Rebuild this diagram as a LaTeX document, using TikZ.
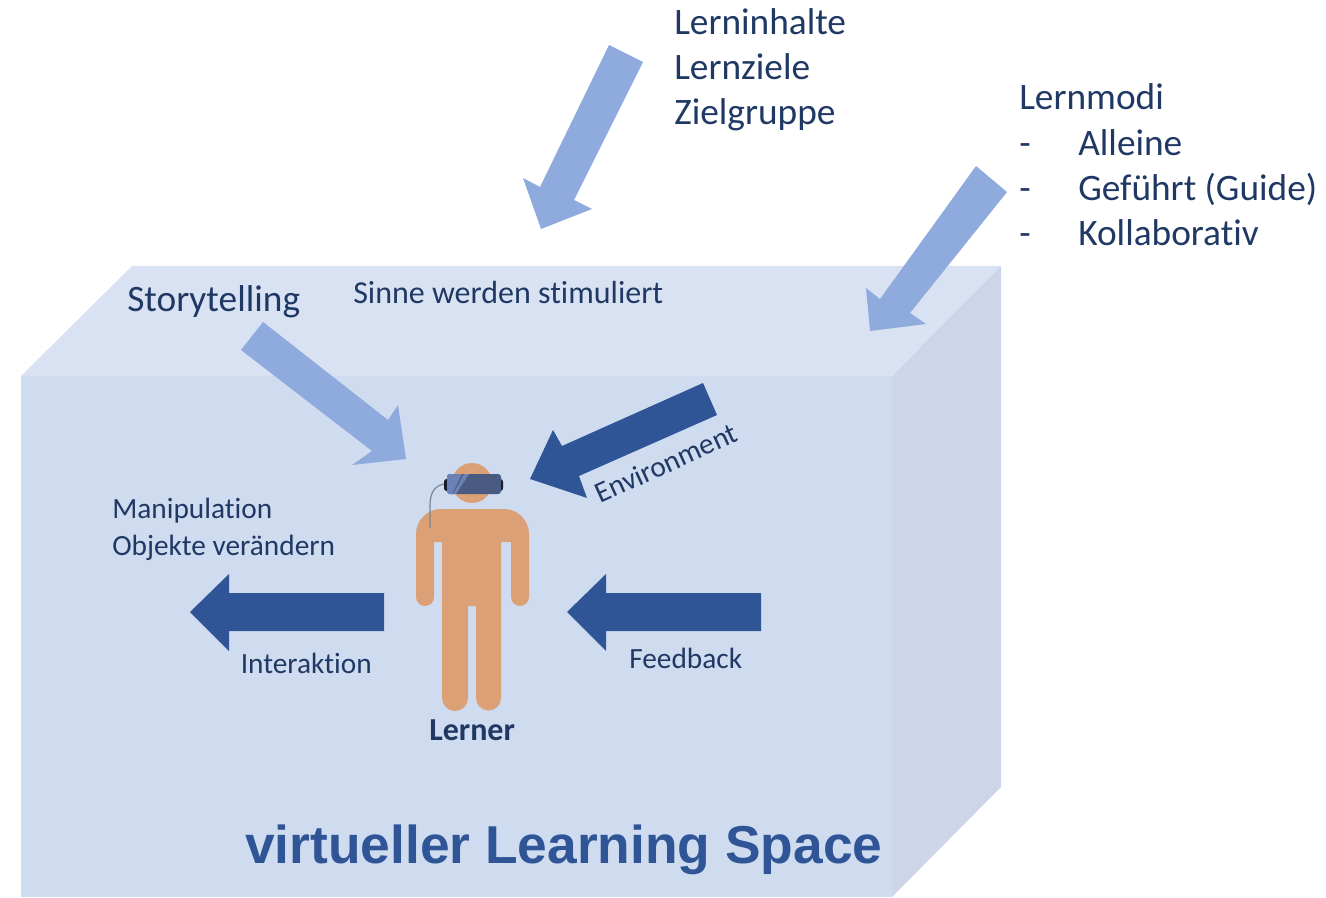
\documentclass[tikz,border=0pt]{standalone}
\usepackage{fontspec}
\setmainfont[Ligatures=NoCommon]{Carlito}
\newfontfamily\headfont{Liberation Sans}
\definecolor{frontc}{HTML}{CFDCF0}
\definecolor{topc}{HTML}{D9E2F3}
\definecolor{sidec}{HTML}{CCD6E8}
\definecolor{lightarrow}{HTML}{8FAADC}
\definecolor{darkarrow}{HTML}{2F5597}
\definecolor{inkc}{HTML}{203864}
\definecolor{skinc}{HTML}{DBA075}
\definecolor{gogglec}{HTML}{4A5B82}
\definecolor{gogglel}{HTML}{6B80B5}
\definecolor{cablec}{HTML}{7C8591}
\tikzset{
  x=0.75pt,y=-0.75pt,
  lab/.style={text=inkc,inner sep=0pt,anchor=base west},
  big/.style={lab,font=\fontsize{28}{34}\selectfont},
  mid/.style={lab,font=\fontsize{22}{27}\selectfont},
  light/.style={fill=lightarrow,draw=none},
  dark/.style={fill=darkarrow,draw=none},
}
\begin{document}
\begin{tikzpicture}
\useasboundingbox (0,0) rectangle (1326,898);
% box
\fill[topc] (21,376) -- (132,266) -- (1001,266) -- (892,376) -- cycle;
\fill[sidec] (892,376) -- (1001,266) -- (1001,787) -- (892,897) -- cycle;
\fill[frontc] (21,376) rectangle (892,897);
% light arrows
\path[light] (609,45) -- (643,62) -- (574,200) -- (592,209) -- (541,229) -- (523,178) -- (540,187) -- cycle;
\path[light] (976,166) -- (1007,192) -- (910,313) -- (926,324) -- (870,331) -- (866,288) -- (880,299) -- cycle;
\path[light] (263,322) -- (241,350) -- (372,451) -- (352,465) -- (406,459) -- (398,405) -- (388,420) -- cycle;
% dark arrows
\path[dark] (703,383) -- (717,415) -- (579,476) -- (587,498) -- (530,479) -- (553,430) -- (562,446) -- cycle;
\path[dark] (761,593) -- (761,631) -- (606,631) -- (606,651) -- (567,612) -- (606,574) -- (606,593) -- cycle;
\path[dark] (384,593) -- (384,631) -- (229,631) -- (229,651) -- (190,612) -- (229,574) -- (229,593) -- cycle;
% person
\fill[skinc] (472,483) circle[radius=20];
\fill[skinc] (416,597) -- (416,534) arc[start angle=180,end angle=270,radius=25] -- (504,509)
  arc[start angle=270,end angle=360,radius=25] -- (529,597)
  arc[start angle=0,end angle=180,radius=9] -- (511,542) -- (501,542) -- (501,698)
  arc[start angle=0,end angle=180,radius=12.5] -- (476,606) -- (468,606) -- (468,698)
  arc[start angle=0,end angle=180,radius=13] -- (442,542) -- (434,542) -- (434,597)
  arc[start angle=0,end angle=180,radius=9] -- cycle;
% goggles
\draw[cablec,line width=0.9pt] (445,484) .. controls (434,485) and (430,494) .. (430,505) -- (430,528);
\fill[black!70!gogglec,rounded corners=2pt] (444,479) rectangle (503,491);
\fill[gogglec,rounded corners=2.2pt] (447,474) rectangle (501,494);
\begin{scope}
  \clip[rounded corners=2.2pt] (447,474) rectangle (501,494);
  \fill[gogglel] (447,474) -- (462,474) -- (452,494) -- (447,494) -- cycle;
  \fill[gogglel] (464,474) -- (469,474) -- (456,494) -- (453,494) -- cycle;
\end{scope}
% labels
\node[big] (inhalte) at (674,34.5) {Lerninhalte};
\node[big] (ziele) at (674,79.5) {Lernziele};
\node[big] (gruppe) at (674,124.5) {Zielgruppe};
\node[big] (modi) at (1019,110) {Lernmodi};
\node[big] (d1) at (1019,155.5) {-};
\node[big] (alleine) at (1078,155.5) {Alleine};
\node[big] (d2) at (1019,201) {-};
\node[big] (gefuehrt) at (1078,201) {Geführt (Guide)};
\node[big] (d3) at (1019,246) {-};
\node[big] (kollab) at (1078,246) {Kollaborativ};
\node[big] (story) at (127,311.5) {Storytelling};
\node[lab,font=\fontsize{24}{29}\selectfont] (sinne) at (353,303.5) {Sinne werden stimuliert};
\node[mid] (manip) at (112,518) {Manipulation};
\node[mid] (objekte) at (112,555) {Objekte verändern};
\node[mid] (inter) at (240.5,673) {Interaktion};
\node[mid] (feed) at (629,668) {Feedback};
\node[mid,rotate=24.5] (env) at (600.5,504) {Environment};
\node[lab,font=\fontsize{24}{29}\selectfont\bfseries] (lerner) at (429,740) {Lerner};
\node[inner sep=0pt,anchor=base west,text=darkarrow,font=\headfont\fontsize{40}{46}\selectfont\bfseries] (title) at (245,863) {virtueller Learning Space};
\end{tikzpicture}
\end{document}
